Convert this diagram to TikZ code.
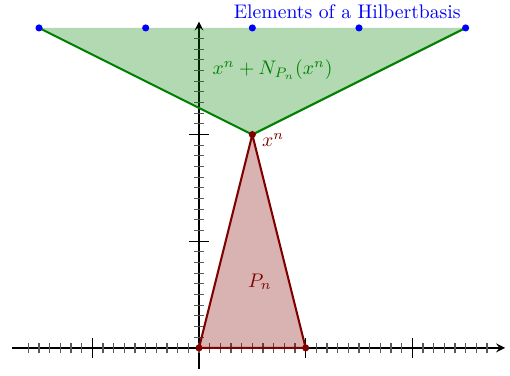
\documentclass[tikz,border=0pt]{standalone}
\usepackage{amsmath}
\usetikzlibrary{calc}

\begin{document}
\begin{tikzpicture}[
  x=2cm, y=2cm, line width=1.1pt,
  axis/.style={line width=1.1pt, -stealth},
  minortick/.style={semithick, black!65},
  majortick/.style={semithick, black},
  dot/.style={circle, fill, inner sep=0pt, minimum size=3.8pt},
  lbl/.style={scale=1.05},
]
  \useasboundingbox (-1.866,-0.2625) rectangle (2.916,3.262);

  \coordinate (O) at (0,0);
  \coordinate (E) at (1,0);
  \coordinate (X) at (0.5,2);
  % Ecken des Normalenkegels
  \coordinate (L) at (-1.5,3);
  \coordinate (R) at (2.5,3);

  % Achsen
  \coordinate (xs) at (-1.75,0);
  \coordinate (xe) at (2.87,0);
  \coordinate (ys) at (0,-0.2);
  \coordinate (ye) at (0,3.06);
  \draw[axis] (xs) -- (xe);
  \draw[axis] (ys) -- (ye);

  % Striche
  \foreach \i in {-16,...,27}
    \draw[minortick] (\i/10,0) ++(0,-2.7pt) -- ++(0,5.4pt);
  \foreach \i in {-1,1,2}
    \draw[majortick] (\i,0) ++(0,-5.5pt) -- ++(0,11pt);
  \foreach \j in {1,...,29}
    \draw[minortick] (0,\j/10) ++(-2.7pt,0) -- ++(5.4pt,0);
  \foreach \j in {1,2}
    \draw[majortick] (0,\j) ++(-5.5pt,0) -- ++(11pt,0);

  % Kegel x^n + N
  \fill[green!50!black, fill opacity=0.3] (L) -- (X) -- (R) -- cycle;
  \draw[green!50!black] (L) -- (X) -- (R);

  % Polytop P_n
  \filldraw[red!50!black, fill opacity=0.3] (O) -- (E) -- (X) -- cycle;

  \foreach \pt in {O,E,X} \node[dot, red!50!black] at (\pt) {};
  \foreach \k in {-1.5,-0.5,0.5,1.5,2.5} \node[dot, blue] at (\k,3) {};

  \node[lbl, red!50!black, anchor=west] (xn) at ($(X)+(0.02,-0.05)$) {$x^n$};
  \node[lbl, red!50!black] (pn) at (0.57,0.62) {$P_n$};
  \node[lbl, green!50!black] (cone) at (0.69,2.61) {$x^n+N_{P_n}(x^n)$};
  \node[lbl, blue] (hb) at (1.39,3.15) {Elements of a Hilbertbasis};
\end{tikzpicture}
\end{document}
